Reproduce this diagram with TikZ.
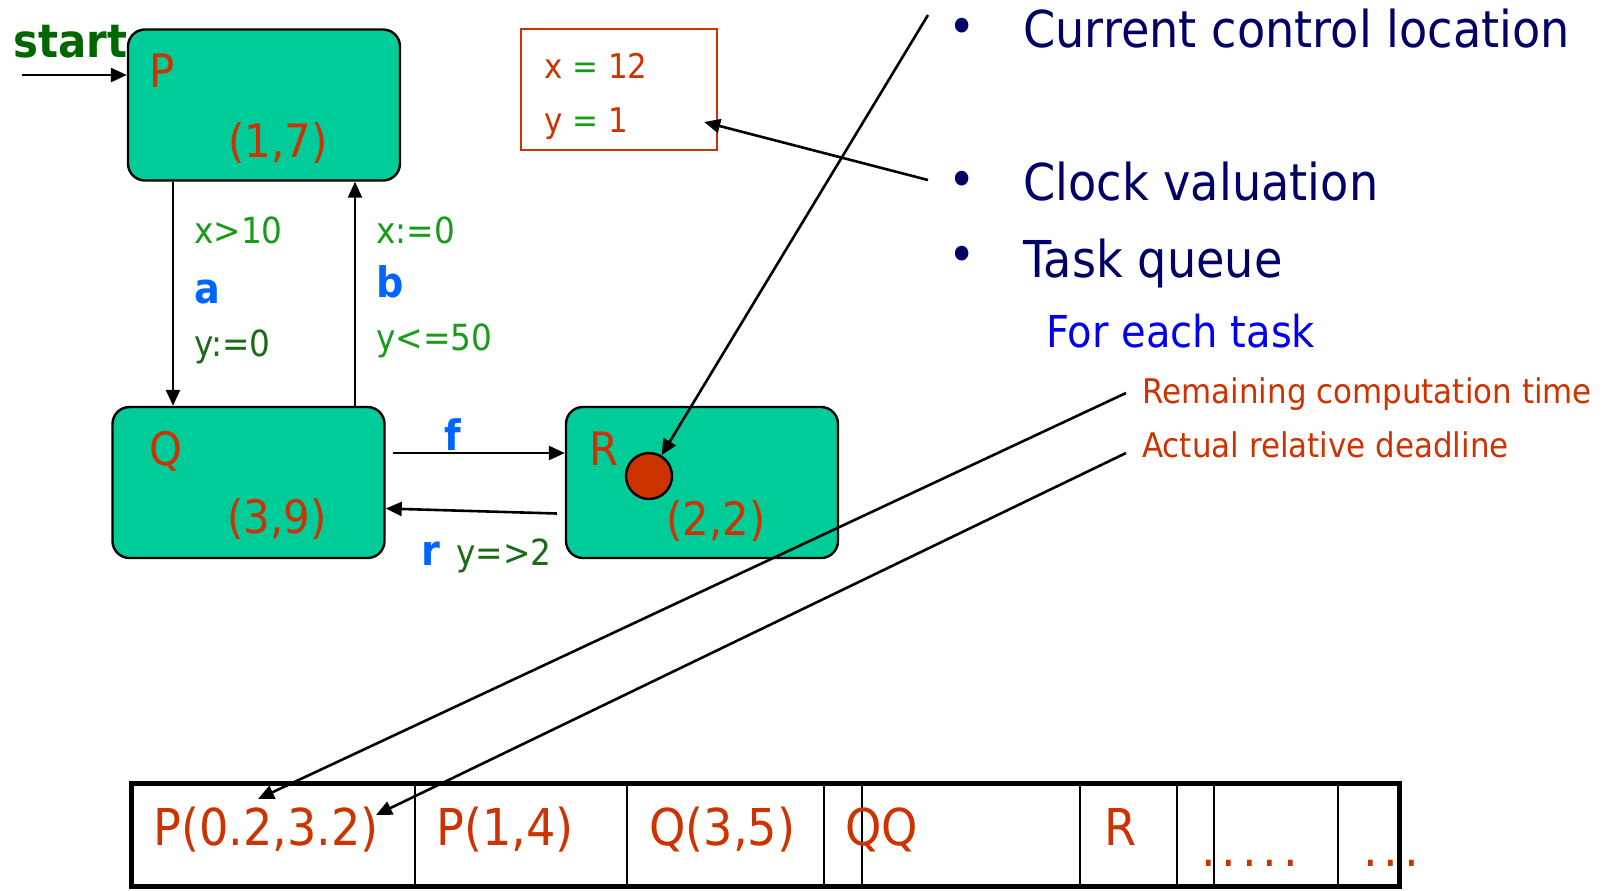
\documentclass[tikz,border=0pt]{standalone}
\usepackage{fontspec}
\setmainfont{DejaVu Sans}[FakeStretch=0.91]
\usepackage{tikz}
\usetikzlibrary{arrows.meta}
\usetikzlibrary{calc,positioning}
\usepackage{xcolor}

\definecolor{locfill}{HTML}{00CC99}
\definecolor{locred}{HTML}{CC3300}
\definecolor{navy}{HTML}{000066}
\definecolor{actblue}{HTML}{0066FF}
\definecolor{taskblue}{HTML}{0000EE}
\definecolor{grdgreen}{HTML}{1A9A1A}
\definecolor{resgreen}{HTML}{1A6A1A}
\definecolor{startgreen}{HTML}{006600}

\tikzset{
  loc/.style={draw, line width=1.2pt, fill=locfill, rounded corners=8.5pt,
    minimum width=136pt, minimum height=75.5pt},
  txt/.style={inner sep=0pt, anchor=base west},
  locname/.style={txt, text=locred, font=\fontsize{23}{28}\selectfont},
  guard/.style={txt, text=grdgreen, font=\fontsize{18}{22}\selectfont},
  reset/.style={txt, text=resgreen, font=\fontsize{18}{22}\selectfont},
  act/.style={txt, text=actblue, font=\bfseries\fontsize{21}{25}\selectfont},
  item/.style={txt, text=navy, font=\fontsize{25.4}{30}\selectfont},
  qtxt/.style={txt, text=locred, font=\fontsize{25.4}{30}\selectfont},
  clk/.style={txt, text=locred, font=\fontsize{17}{21}\selectfont},
}

\begin{document}
\begin{tikzpicture}[x=0.5pt,y=-0.5pt,>={Triangle[length=8pt,width=7pt]},line width=1.3pt]

		\useasboundingbox (0,0) rectangle (1622,890);

		% Locations
		\node[loc] (P) at (264,105) {};
		\node[loc] (Q) at (248.5,482.5) {};
		\node[loc] (R) at (702,482.5) {};
		\node[locname] (Pname) at (148,87) {P};
		\node[locname] (Pval) at (227,157) {(1,7)};
		\node[locname] (Qname) at (148,465) {Q};
		\node[locname] (Qval) at (226,533) {(3,9)};
		\node[locname] (Rname) at (588,465) {R};
		\node[locname] (Rval) at (665,535) {(2,2)};
		\node[circle, draw, line width=1.2pt, fill=locred, minimum size=23pt, inner sep=0pt] (dot) at (649,476) {};

		% Initial location
		\node[txt, text=startgreen, font=\bfseries\fontsize{23}{28}\selectfont] (start) at (12,57) {start};
		\coordinate (in) at (22,75);
		\draw[->] (in) -- (in -| P.west);

		% Transitions
		\coordinate (ax) at (173,0);
		\coordinate (bx) at (355,0);
		\coordinate (fy) at (0,453);
		\draw[->] (ax |- P.south) -- (ax |- Q.north);
		\draw[->] (bx |- Q.north) -- (bx |- P.south);
		\draw[->] ($(Q.east |- fy)+(7,0)$) -- (R.west |- fy);
		\draw[->] ($(R.west)+(-8,31)$) -- ($(Q.east)+(0,26)$);

		\node[guard] (ag) at (193,243) {x>10};
		\node[act] (a) at (193,303) {a};
		\node[reset] (ar) at (193,356) {y:=0};
		\node[guard] (br) at (375,243) {x:=0};
		\node[act] (b) at (375,297) {b};
		\node[guard] (bg) at (375,350) {y<=50};
		\node[act] (f) at (443,450) {f};
		\node[act] (r) at (420,565) {r};
		\node[reset] (rg) at (455,565) {y=>2};

		% Clock valuation
		\node[draw=locred, line width=1.2pt, minimum width=98pt, minimum height=60.5pt] (clock) at (619,89.5) {};
		\node[clk] (cx) at (543,78) {x \textcolor{grdgreen}{=} 12};
		\node[clk] (cy) at (543,132) {y \textcolor{grdgreen}{=} 1};

		% State components
		\foreach \yb in {31,184,259}
		\node[inner sep=0pt, text=navy, font=\fontsize{25.4}{30}\selectfont] at (962,\yb) {•};
		\node[item] (cur) at (1022,47) {Current control location};
		\node[item] (clv) at (1022,200) {Clock valuation};
		\node[item] (tq) at (1022,277) {Task queue};
		\node[txt, text=taskblue, font=\fontsize{22}{26}\selectfont] (each) at (1045,347) {For each task};
		\node[txt, text=locred, font=\fontsize{17}{21}\selectfont] (rem) at (1141,403) {Remaining computation time};
		\node[txt, text=locred, font=\fontsize{17}{21}\selectfont] (act) at (1141,457) {Actual relative deadline};

		\coordinate (locTail) at (928,15);
		\coordinate (clkTail) at (928,180);
		\coordinate (remTail) at (1126,393);
		\coordinate (actTail) at (1126,453);
		\coordinate (remTip) at (258,799);
		\coordinate (actTip) at (376,815);
		\draw[->] (locTail) -- (dot);
		\draw[->] (clkTail) -- ($(clock.east)+(-14,32.5)$);
		\draw[->] (remTail) -- (remTip);
		\draw[->] (actTail) -- (actTip);

		% Task queue
		\node[draw, line width=2.5pt, minimum width=634pt, minimum height=51.5pt, inner sep=0pt] (queue) at (765,834.5) {};
		\foreach \xd in {415,627,824,862,1080,1177,1214,1338}
		\draw[line width=0.8pt] (\xd,783) -- (\xd,886);

		\node[qtxt] (t1) at (152,845) {P(0.2,3.2)};
		\node[qtxt] (t2) at (435,845) {P(1,4)};
		\node[qtxt] (t3) at (648,845) {Q(3,5)};
		\node[qtxt] (t4) at (844,845) {QQ};
		\node[qtxt] (t5) at (1103,845) {R};
		\node[qtxt] (t6) at (1200,866) {.\kern2.9pt.\kern2.9pt.\kern2.9pt.\kern2.9pt.};
		\node[qtxt] (t7) at (1362,866) {.\kern2.9pt.\kern2.9pt.};

	\end{tikzpicture}
\end{document}
